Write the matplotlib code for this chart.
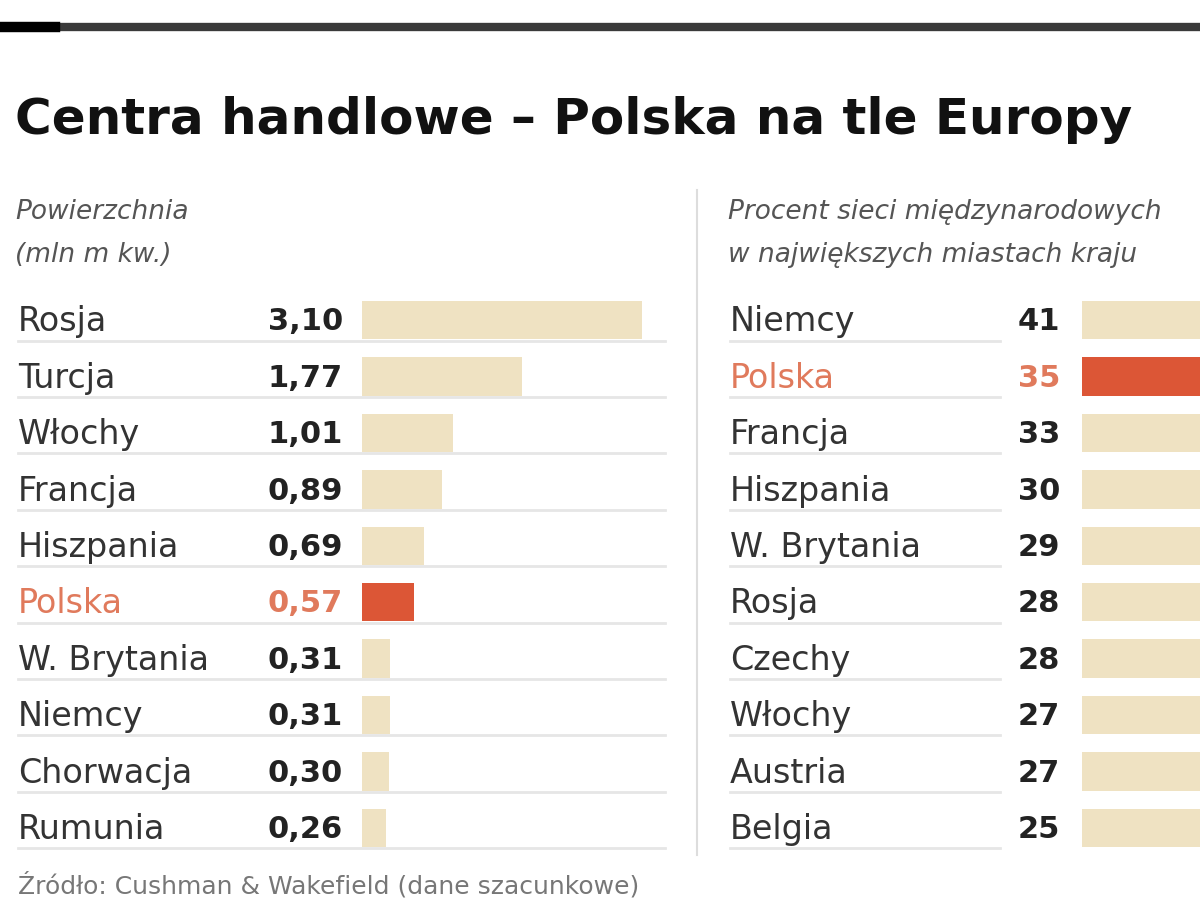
import matplotlib
matplotlib.use("Agg")
import matplotlib.pyplot as plt
from matplotlib.transforms import blended_transform_factory

# data
left_countries = ["Rosja", "Turcja", "Włochy", "Francja", "Hiszpania", "Polska",
                  "W. Brytania", "Niemcy", "Chorwacja", "Rumunia"]
left_values = [3.10, 1.77, 1.01, 0.89, 0.69, 0.57, 0.31, 0.31, 0.30, 0.26]

right_countries = ["Niemcy", "Polska", "Francja", "Hiszpania", "W. Brytania",
                   "Rosja", "Czechy", "Włochy", "Austria", "Belgia"]
right_values = [41, 35, 33, 30, 29, 28, 28, 27, 27, 25]

title = "Centra handlowe – Polska na tle Europy"
left_sub = ["Powierzchnia", "(mln m kw.)"]
right_sub = ["Procent sieci międzynarodowych", "w największych miastach kraju"]
source = "Źródło: Cushman & Wakefield (dane szacunkowe)"

W, H = 1200, 923
BEIGE = "#efe2c2"
RED = "#dc5636"
HILITE = "#e07a5c"
GRID = "#e6e6e6"

plt.rcParams["font.family"] = ["DejaVu Sans"]
fig = plt.figure(figsize=(W / 100, H / 100), dpi=100)


def fx(px):
    return px / W


def fy(py):
    return 1 - py / H


# rows span from y=292 to y=856 px
bottom, top = fy(856), fy(292)


def panel(x0, x1, countries, values, xmax, lab_x, val_x, line_x0, line_x1, fmt):
    ax = fig.add_axes([fx(x0), bottom, fx(x1) - fx(x0), top - bottom])
    n = len(countries)
    colors = [RED if c == "Polska" else BEIGE for c in countries]
    ax.barh(range(n), values, height=0.68, color=colors, zorder=3)
    ax.set_ylim(n - 0.5, -0.5)
    ax.set_xlim(0, xmax)
    ax.axis("off")
    tr = blended_transform_factory(fig.transFigure, ax.transData)
    for i, (c, v) in enumerate(zip(countries, values)):
        col = HILITE if c == "Polska" else "#333333"
        ax.plot([fx(line_x0), fx(line_x1)], [i + 0.36, i + 0.36], color=GRID,
                lw=2, transform=tr, clip_on=False, zorder=1)
        ax.text(fx(lab_x), i + 0.03, c, transform=tr, ha="left", va="center",
                fontsize=24, color=col, zorder=2,
                bbox=dict(facecolor="white", edgecolor="none", pad=0.5))
        ax.text(fx(val_x), i + 0.03, fmt(v), transform=tr, ha="right", va="center",
                fontsize=22, fontweight="bold",
                color=HILITE if c == "Polska" else "#222222", zorder=2,
                bbox=dict(facecolor="white", edgecolor="none", pad=0.5))
    return ax


panel(362, 665, left_countries, left_values, 3.35, 18, 343, 18, 665,
      lambda v: f"{v:.2f}".replace(".", ","))
panel(1082, 1500, right_countries, right_values, 45, 730, 1060, 730, 1000,
      lambda v: f"{v:d}")

# top rule
fig.add_artist(plt.Line2D([0, 1], [fy(27), fy(27)], color="#3a3a3a", lw=6))
fig.add_artist(plt.Line2D([0, fx(55)], [fy(27), fy(27)], color="#000000", lw=7.5))

# divider between the panels
fig.add_artist(plt.Line2D([fx(697), fx(697)], [fy(190), fy(855)], color="#dddddd", lw=1.5))

fig.text(fx(15), fy(120), title, fontsize=36, fontweight="bold", color="#111111",
         ha="left", va="center")

for k, line in enumerate(left_sub):
    fig.text(fx(15), fy(212 + 43 * k), line, fontsize=19, style="italic",
             color="#555555", ha="left", va="center")
for k, line in enumerate(right_sub):
    fig.text(fx(728), fy(212 + 43 * k), line, fontsize=19, style="italic",
             color="#555555", ha="left", va="center")

fig.text(fx(18), fy(885), source, fontsize=18, color="#777777", ha="left", va="center")

fig.savefig("out.png", dpi=100, facecolor="white")
